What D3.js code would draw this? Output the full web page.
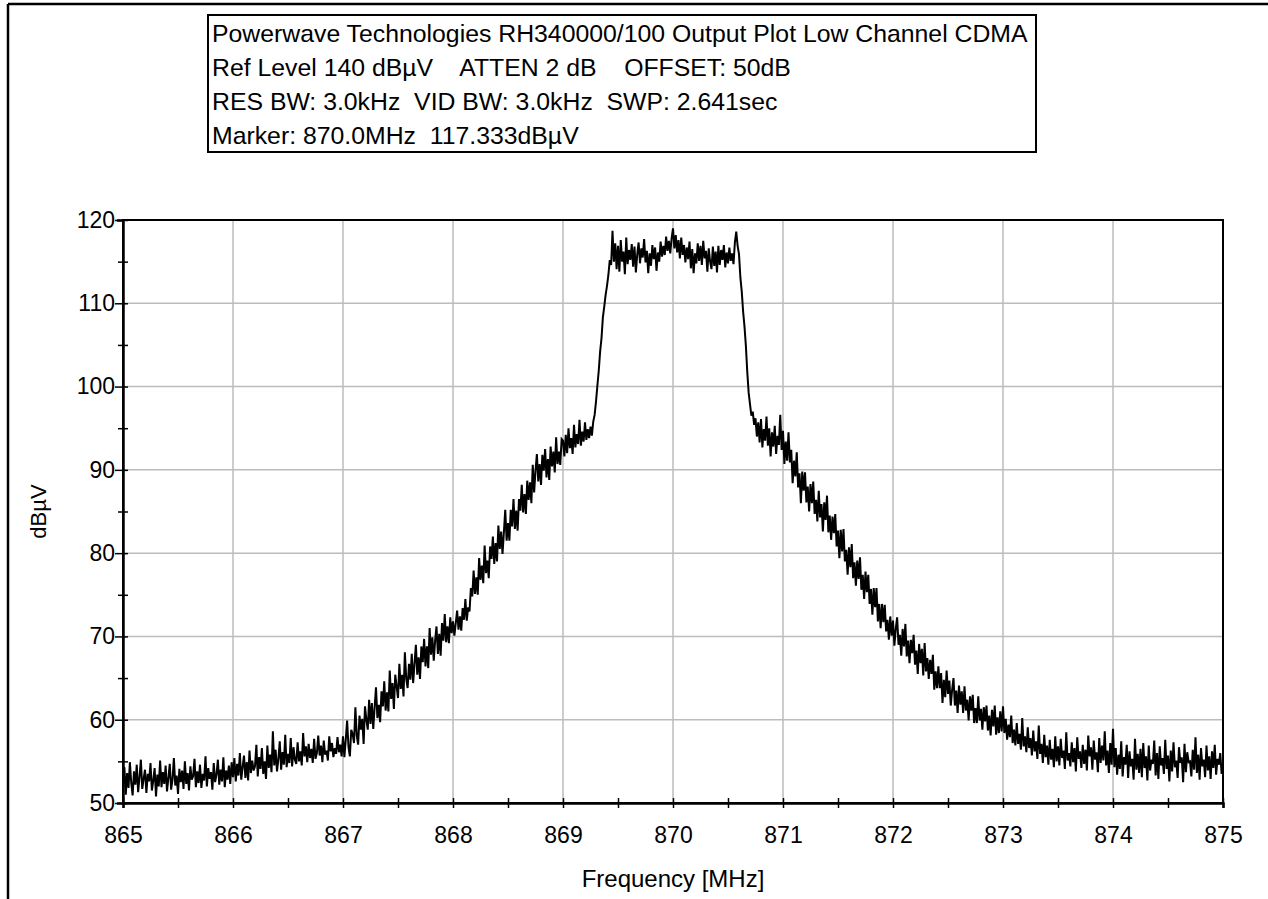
<!DOCTYPE html>
<html>
<head>
<meta charset="utf-8">
<script src="https://cdn.jsdelivr.net/npm/d3@7"></script>
<style>
  html, body { margin: 0; padding: 0; background: #fff; }
  svg { display: block; }
  text { font-family: "Liberation Sans", Arial, sans-serif; fill: #000; }
</style>
</head>
<body>
<svg id="chart" width="1268" height="899"></svg>
<script>
// ---------- DATA ----------
const titleLines = [
  "Powerwave Technologies RH340000/100 Output Plot Low Channel CDMA",
  "Ref Level 140 dB\u00b5V    ATTEN 2 dB    OFFSET: 50dB",
  "RES BW: 3.0kHz  VID BW: 3.0kHz  SWP: 2.641sec",
  "Marker: 870.0MHz  117.333dB\u00b5V"
];
const xTickValues = [865, 866, 867, 868, 869, 870, 871, 872, 873, 874, 875];
const yTickValues = [50, 60, 70, 80, 90, 100, 110, 120];
const xLabel = "Frequency [MHz]";
const yLabel = "dB\u00b5V";
const freqStart = 865.0;    // MHz
const freqStep = 0.0125;    // MHz per sample
const levels = [
  // 865
  52.1, 54.3, 51.0, 53.6, 51.8, 54.9, 52.4, 50.9, 53.8, 52.2, 54.6, 51.3, 53.1, 55.2, 51.7, 52.9, 54.0, 51.2, 53.5, 52.6,
  54.8, 51.5, 52.7, 54.2, 50.8, 53.4, 52.0, 55.1, 51.9, 53.7, 52.3, 54.5, 51.4, 53.0, 54.7, 51.6, 52.8, 55.4, 52.1, 53.3,
  51.1, 54.1, 52.5, 53.9, 51.7, 55.0, 52.3, 53.6, 51.5, 54.4, 52.8, 53.2, 55.3, 51.9, 53.8, 52.4, 54.6, 51.8, 53.5, 52.7,
  55.6, 52.0, 54.2, 52.9, 53.7, 51.6, 54.8, 52.5, 53.4, 55.2, 52.2, 54.0, 52.6, 55.5, 51.9, 53.9, 52.8, 54.5, 52.3, 54.9,
  // 866
  53.1, 55.4, 52.6, 54.7, 53.3, 56.0, 52.8, 54.3, 55.7, 53.0, 54.9, 52.7, 56.3, 53.6, 55.1, 53.9, 54.4, 57.0, 53.2, 55.5,
  54.1, 56.6, 53.5, 55.0, 52.9, 56.9, 54.2, 55.8, 53.7, 58.6, 54.5, 56.4, 53.8, 55.3, 57.4, 54.0, 56.1, 54.6, 58.2, 54.3,
  55.9, 54.8, 57.8, 54.4, 56.7, 55.2, 54.7, 57.3, 55.0, 56.2, 54.5, 58.4, 55.6, 56.8, 54.9, 57.1, 55.4, 56.5, 54.8, 57.7,
  55.3, 56.0, 58.1, 55.7, 56.9, 54.9, 57.5, 55.8, 56.3, 55.1, 58.0, 56.2, 57.2, 55.5, 56.6, 55.9, 57.9, 56.1, 57.0, 55.6,
  // 867
  58.0, 55.5, 57.6, 59.9, 56.7, 55.6, 58.8, 58.3, 57.2, 61.5, 58.1, 57.0, 60.5, 58.8, 60.1, 57.1, 61.6, 60.0, 58.8, 62.4,
  59.5, 62.0, 58.9, 61.5, 63.9, 60.2, 61.8, 59.7, 63.4, 61.6, 64.6, 61.1, 63.3, 61.0, 65.9, 62.5, 64.4, 61.3, 65.4, 64.0,
  62.6, 66.7, 63.7, 65.4, 62.8, 68.1, 64.9, 63.8, 66.7, 64.8, 67.9, 64.4, 66.7, 69.0, 65.4, 67.5, 64.9, 68.8, 66.9, 69.7,
  66.4, 68.8, 66.2, 71.0, 67.8, 69.9, 67.1, 69.5, 71.2, 67.9, 70.3, 67.7, 71.6, 69.5, 72.7, 69.3, 71.2, 69.2, 72.3, 70.4,
  // 868
  71.8, 70.1, 71.6, 73.1, 70.8, 72.4, 70.7, 73.4, 72.0, 74.5, 71.9, 73.5, 73.0, 75.8, 74.8, 77.9, 75.1, 77.1, 75.0, 79.4,
  76.8, 78.5, 76.4, 80.9, 77.6, 79.1, 77.0, 80.8, 79.3, 82.0, 78.7, 81.2, 79.0, 83.3, 80.5, 82.6, 79.9, 82.5, 85.2, 81.5,
  83.6, 81.5, 85.2, 83.2, 86.5, 82.9, 85.1, 82.7, 86.5, 85.1, 88.2, 84.9, 87.1, 84.7, 88.7, 86.4, 88.5, 86.0, 90.6, 87.3,
  89.9, 91.9, 88.6, 90.7, 88.2, 91.8, 89.9, 92.5, 89.1, 91.3, 88.8, 92.8, 90.4, 92.2, 89.7, 93.9, 90.7, 92.2, 90.6, 93.7,
  // 869
  93.5, 91.6, 94.2, 92.0, 95.0, 92.6, 93.8, 91.9, 95.4, 92.7, 94.3, 93.1, 96.0, 92.9, 94.6, 93.4, 95.7, 93.6, 94.9, 93.8,
  95.2, 94.1, 95.8, 96.6, 98.2, 100.1, 101.9, 104.2, 105.8, 108.3, 109.6, 111.0, 112.1, 113.4, 115.2, 114.6, 118.7, 115.0, 117.2, 114.1,
  116.9, 113.8, 117.6, 115.0, 116.2, 113.5, 117.9, 114.7, 116.4, 115.2, 117.1, 114.4, 116.8, 113.7, 115.9, 117.3, 114.8, 116.6, 115.5, 117.7,
  114.9, 116.3, 113.6, 116.0, 114.5, 117.0, 115.3, 116.7, 113.9, 116.1, 115.0, 117.4, 115.6, 116.9, 115.8, 118.0, 116.3, 117.5, 116.0, 117.8,
  // 870
  119.0, 116.6, 118.2, 116.1, 117.6, 115.4, 117.9, 115.8, 117.0, 114.9, 116.7, 115.3, 117.4, 114.2, 116.5, 113.6, 116.0, 114.8, 117.2, 115.1,
  116.9, 114.6, 117.5, 115.4, 116.3, 113.8, 116.6, 115.0, 114.1, 116.8, 114.5, 116.2, 113.7, 116.9, 114.6, 116.4, 115.2, 117.0, 114.3, 116.1,
  114.8, 116.7, 115.1, 116.0, 114.7, 117.3, 118.6, 116.9, 115.9, 113.1, 111.4, 109.0, 107.2, 104.9, 101.8, 99.3, 97.9, 96.5, 97.0, 95.4,
  96.2, 94.0, 95.7, 93.3, 96.1, 92.7, 94.9, 93.5, 96.4, 92.9, 95.0, 91.6, 94.5, 92.8, 95.3, 91.9, 94.1, 93.0, 96.6, 92.4,
  // 871
  94.7, 90.7, 93.4, 91.1, 94.5, 90.9, 92.4, 88.4, 91.1, 89.2, 92.1, 87.9, 89.6, 86.0, 89.8, 87.5, 89.7, 86.1, 88.0, 85.0,
  88.3, 86.0, 88.6, 84.7, 86.4, 83.8, 87.5, 84.3, 85.9, 82.6, 86.1, 84.0, 86.9, 82.5, 84.5, 81.6, 84.4, 82.4, 84.7, 80.8,
  82.7, 79.4, 82.8, 80.2, 82.9, 79.0, 80.4, 77.4, 80.7, 78.3, 81.1, 77.0, 78.9, 76.1, 79.1, 76.9, 79.5, 75.6, 77.4, 74.5,
  77.8, 75.3, 77.4, 73.9, 75.7, 72.6, 75.8, 73.5, 75.8, 71.8, 73.9, 71.0, 73.9, 71.7, 73.8, 70.6, 72.0, 69.6, 72.4, 70.1,
  // 872
  71.9, 68.9, 70.9, 72.3, 69.0, 70.2, 67.7, 70.9, 68.8, 71.5, 67.6, 69.5, 66.8, 69.6, 68.0, 70.2, 66.6, 68.3, 65.5, 69.1,
  66.8, 68.5, 65.3, 69.2, 65.8, 67.4, 64.9, 67.2, 65.5, 67.8, 63.6, 65.8, 63.8, 66.4, 63.8, 65.6, 62.0, 64.8, 62.7, 65.9,
  63.1, 64.7, 61.7, 63.6, 65.0, 61.7, 63.5, 60.8, 64.1, 61.8, 63.4, 60.8, 64.0, 61.1, 62.4, 59.9, 62.8, 61.1, 63.0, 59.6,
  61.4, 59.6, 62.8, 59.9, 61.3, 58.8, 61.5, 59.8, 61.7, 58.7, 60.5, 58.1, 61.2, 59.2, 61.7, 58.2, 60.3, 58.4, 61.0, 58.6,
  // 873
  61.6, 58.4, 60.1, 57.6, 59.4, 57.9, 60.5, 57.2, 58.8, 56.9, 59.6, 57.1, 58.3, 56.4, 60.2, 56.8, 58.0, 56.1, 59.1, 56.6,
  57.8, 55.7, 58.7, 56.2, 57.4, 55.3, 59.3, 55.9, 57.1, 54.8, 58.2, 55.5, 56.9, 54.6, 57.6, 55.2, 56.5, 54.3, 58.0, 55.0,
  56.8, 54.5, 57.7, 55.4, 56.3, 54.1, 58.5, 55.1, 56.0, 54.4, 57.3, 54.9, 56.6, 53.8, 57.9, 55.3, 56.2, 54.2, 57.0, 54.7,
  56.4, 53.9, 58.1, 55.6, 56.7, 54.0, 57.5, 55.2, 56.1, 53.7, 57.8, 54.8, 56.9, 55.1, 58.6, 54.5, 56.3, 53.6, 57.2, 54.6,
  // 874
  58.9, 54.3, 56.6, 53.4, 55.8, 54.1, 57.4, 53.2, 55.5, 54.6, 57.0, 53.0, 56.2, 54.4, 55.3, 52.8, 57.7, 54.0, 55.9, 53.6,
  56.5, 53.1, 57.2, 54.2, 55.6, 52.7, 56.9, 53.9, 55.2, 54.7, 57.5, 53.3, 56.0, 52.9, 56.8, 54.5, 55.4, 53.5, 57.6, 54.1,
  55.7, 52.6, 56.3, 53.8, 57.3, 54.3, 55.1, 53.0, 56.7, 54.8, 55.5, 52.5, 57.1, 53.7, 56.1, 54.9, 55.0, 53.2, 56.4, 54.0,
  57.9, 53.6, 55.8, 52.8, 56.6, 54.4, 55.2, 53.1, 56.9, 53.9, 55.6, 52.9, 56.2, 54.2, 57.0, 53.4, 55.3, 54.6, 56.0, 53.5,
  // 875
  54.3
];

// ---------- DRAW ----------
const svg = d3.select("#chart");
const W = 1268, H = 899;
const plot = { left: 123, right: 1223, top: 220, bottom: 803 };
const FONT = "Liberation Sans, Arial, sans-serif";

const x = d3.scaleLinear().domain([865, 875]).range([plot.left, plot.right]);
const y = d3.scaleLinear().domain([50, 120]).range([plot.bottom, plot.top]);

// outer frame (top and left edges)
svg.append("line").attr("x1", 8).attr("x2", W).attr("y1", 4).attr("y2", 4)
  .attr("stroke", "#000").attr("stroke-width", 2.5);
svg.append("line").attr("x1", 8).attr("x2", 8).attr("y1", 4).attr("y2", H)
  .attr("stroke", "#000").attr("stroke-width", 2.5);

// title box
const tb = svg.append("g");
tb.append("rect").attr("x", 208).attr("y", 15).attr("width", 828).attr("height", 137)
  .attr("fill", "#fff").attr("stroke", "#000").attr("stroke-width", 2);
tb.selectAll("text").data(titleLines).join("text")
  .attr("x", 212).attr("y", (d, i) => 42 + i * 34)
  .attr("font-size", 24.8)
  .attr("xml:space", "preserve")
  .style("white-space", "pre")
  .text(d => d);

// grid
const grid = svg.append("g");
grid.selectAll("line.gx").data(xTickValues).join("line")
  .attr("x1", d => x(d)).attr("x2", d => x(d))
  .attr("y1", plot.top).attr("y2", plot.bottom)
  .attr("stroke", "#bcbcbc").attr("stroke-width", 1.5);
grid.selectAll("line.gy").data(yTickValues).join("line")
  .attr("x1", plot.left).attr("x2", plot.right)
  .attr("y1", d => y(d)).attr("y2", d => y(d))
  .attr("stroke", "#bcbcbc").attr("stroke-width", 1.5);

// trace
const pts = levels.map((v, i) => [freqStart + i * freqStep, v]);
svg.append("path").datum(pts)
  .attr("fill", "none").attr("stroke", "#000").attr("stroke-width", 2)
  .attr("stroke-linejoin", "miter")
  .attr("d", d3.line().x(d => x(d[0])).y(d => y(d[1])));

// plot frame (top, right)
svg.append("rect").attr("x", plot.left).attr("y", plot.top)
  .attr("width", plot.right - plot.left).attr("height", plot.bottom - plot.top)
  .attr("fill", "none").attr("stroke", "#000").attr("stroke-width", 2);

// axes
const xMinor = d3.range(0, 21).map(i => 865 + i * 0.5);
const yMinor = d3.range(0, 15).map(i => 50 + i * 5);
const xAxis = d3.axisBottom(x).tickValues(xMinor).tickSize(5)
  .tickFormat(d => Number.isInteger(d) ? d3.format("d")(d) : "");
const gx = svg.append("g").attr("transform", `translate(0,${plot.bottom})`).call(xAxis);
gx.select(".domain").attr("stroke", "#000").attr("stroke-width", 2.5);
gx.selectAll(".tick line").attr("y1", -5).attr("stroke-width", 1.5);
gx.selectAll(".tick text").attr("font-size", 23).attr("font-family", FONT)
  .attr("y", 24).attr("fill", "#000");

const yAxis = d3.axisLeft(y).tickValues(yMinor).tickSize(6)
  .tickFormat(d => d % 10 === 0 ? d3.format("d")(d) : "");
const gy = svg.append("g").attr("transform", `translate(${plot.left},0)`).call(yAxis);
gy.select(".domain").attr("stroke", "#000").attr("stroke-width", 2.5);
gy.selectAll(".tick line").attr("x2", d => d % 10 === 0 ? -8 : -5).attr("x1", 5).attr("stroke-width", 1.5);
gy.selectAll(".tick text").attr("font-size", 23).attr("font-family", FONT)
  .attr("x", -8).attr("fill", "#000");

// axis titles
svg.append("text").attr("x", (plot.left + plot.right) / 2).attr("y", 887)
  .attr("text-anchor", "middle").attr("font-size", 24).text(xLabel);
svg.append("text").attr("transform", `translate(46,${(plot.top + plot.bottom) / 2}) rotate(-90)`)
  .attr("text-anchor", "middle").attr("font-size", 22).text(yLabel);
</script>
</body>
</html>
